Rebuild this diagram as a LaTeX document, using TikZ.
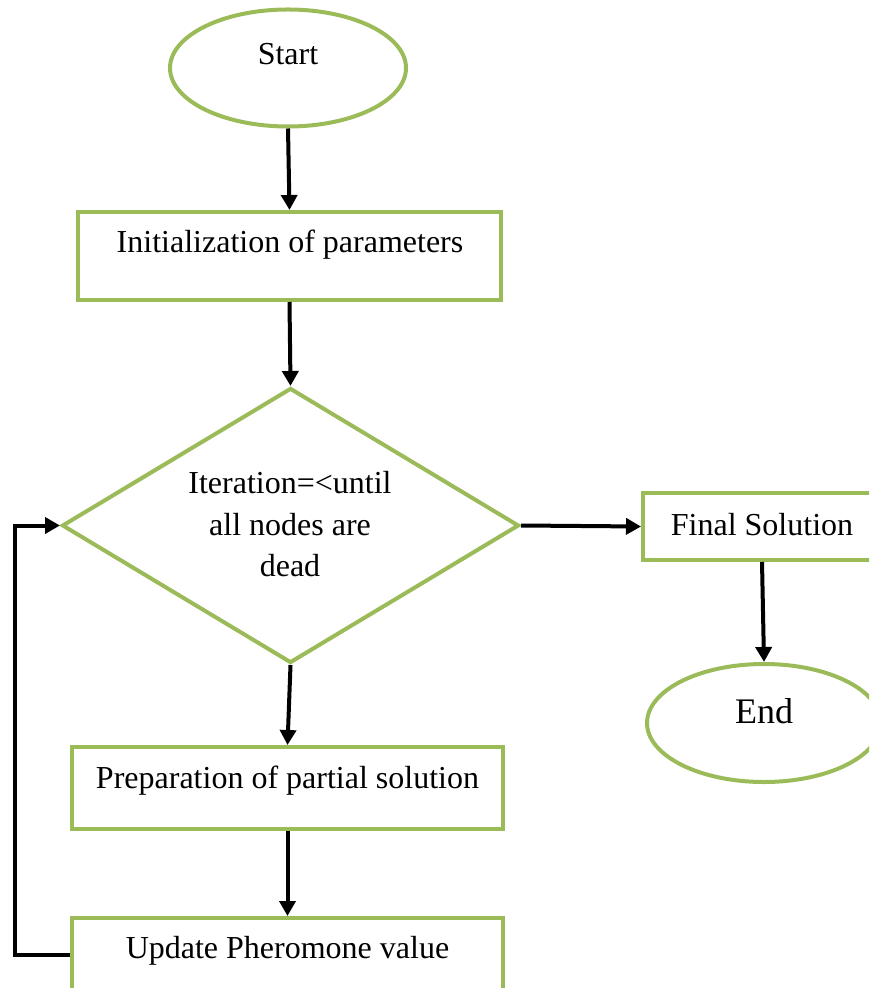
\documentclass[tikz,border=0pt]{standalone}
\usepackage{fontspec}
\setmainfont{Liberation Serif}
\usetikzlibrary{shapes.geometric,arrows.meta}
\definecolor{og}{HTML}{9BBB59}
\begin{document}
\begin{tikzpicture}[x=0.5pt,y=-0.5pt,
  gbox/.style={draw=og,line width=2pt,rectangle,inner sep=0pt},
  gell/.style={draw=og,line width=2pt,ellipse,inner sep=0pt},
  gdia/.style={draw=og,line width=2pt,diamond,inner sep=0pt},
  conn/.style={line width=2pt,-{Triangle[length=7.5pt,width=8pt]}},
  txt/.style={font=\fontsize{16}{19}\selectfont,inner sep=0pt,anchor=base},
  bigtxt/.style={font=\fontsize{18}{21}\selectfont,inner sep=0pt,anchor=base}]
\useasboundingbox (0,0) rectangle (869,988);
\clip (0,0) rectangle (869,988);
% shapes
\node[gell,minimum width=118pt,minimum height=58.5pt] (start) at (288,68) {};
\node[gbox,minimum width=211.5pt,minimum height=44pt] (init) at (289.5,256) {};
\node[gdia,minimum width=228.5pt,minimum height=137.5pt] (dia) at (290.5,525.5) {};
\node[gbox,minimum width=119pt,minimum height=33.5pt] (final) at (762,526.5) {};
\node[gell,minimum width=117pt,minimum height=59pt] (endn) at (764,723) {};
\node[gbox,minimum width=215.5pt,minimum height=41pt] (prep) at (287.5,788) {};
\node[gbox,minimum width=215.5pt,minimum height=41pt] (upd) at (287.5,959) {};
% texts
\node[txt] (startT) at (288,65) {Start};
\node[txt] (initT) at (290,253) {Initialization of parameters};
\node[txt] (diaT1) at (290,493) {Iteration=<until};
\node[txt] (diaT2) at (290,535) {all nodes are};
\node[txt] (diaT3) at (290,576) {dead};
\node[txt] (finalT) at (762,535) {Final Solution};
\node[bigtxt] (endT) at (764,723) {End};
\node[txt] (prepT) at (287.5,788) {Preparation of partial solution};
\node[txt] (updT) at (287.5,958) {Update Pheromone value};
% connectors
\draw[conn] (start.south) -- (init.north);
\draw[conn] (init.south) -- (dia.north);
\draw[conn] (dia.east) -- (final.west);
\draw[conn] (final.south) -- (endn.north);
\draw[conn] (dia.south) -- (prep.north);
\draw[conn] (prep.south) -- (upd.north);
\coordinate (fb) at (15,955);
\draw[conn] (upd.west |- fb) -- (fb) |- (dia.west);
\end{tikzpicture}
\end{document}
